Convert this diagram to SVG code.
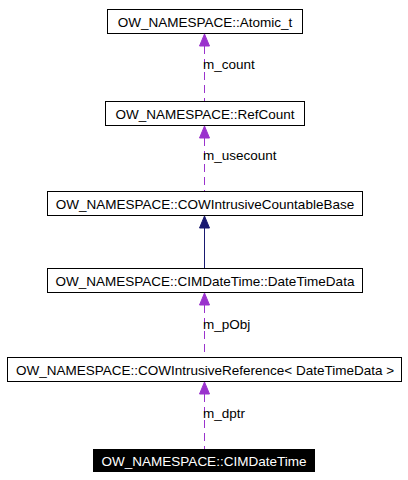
<svg xmlns="http://www.w3.org/2000/svg" width="408" height="480" viewBox="0 0 408 480">
<style>
.box{fill:#fff;stroke:#000;stroke-width:1}
.t{font-family:"Liberation Sans",Arial,sans-serif;font-size:13.5px;text-anchor:middle;fill:#000}
.w{fill:#fff}
.use{stroke:#9a32cd;stroke-width:1;stroke-dasharray:8,5;fill:none}
.ah{fill:#9a32cd;stroke:#9a32cd}
.inh{stroke:#191970;stroke-width:1;fill:none}
.ahn{fill:#191970;stroke:#191970}
.lbl{font-family:"Liberation Sans",Arial,sans-serif;font-size:13.5px;fill:#000}
</style>
<g id="connectors">
<path class="use" d="M204.5,46 L204.5,101"/>
<polygon class="ah" points="204.5,34 209.5,46 199.5,46"/>
<text class="lbl" x="203" y="69">m_count</text>
<path class="use" d="M204.5,138 L204.5,191"/>
<polygon class="ah" points="204.5,126 209.5,138 199.5,138"/>
<text class="lbl" x="203" y="160">m_usecount</text>
<path class="inh" d="M204.5,228 L204.5,268"/>
<polygon class="ahn" points="204.5,216 209.5,228 199.5,228"/>
<path class="use" d="M204.5,305 L204.5,357"/>
<polygon class="ah" points="204.5,293 209.5,305 199.5,305"/>
<text class="lbl" x="203" y="329">m_pObj</text>
<path class="use" d="M204.5,394 L204.5,449"/>
<polygon class="ah" points="204.5,382 209.5,394 199.5,394"/>
<text class="lbl" x="203" y="418">m_dptr</text>
</g>
<g id="node1"><rect class="box" x="107.5" y="9.5" width="195" height="24"/><text class="t" x="205" y="26.5">OW_NAMESPACE::Atomic_t</text></g>
<g id="node2"><rect class="box" x="105.5" y="101.5" width="199" height="24"/><text class="t" x="205" y="118.5">OW_NAMESPACE::RefCount</text></g>
<g id="node3"><rect class="box" x="47.5" y="191.5" width="315" height="24"/><text class="t" x="205" y="208.5">OW_NAMESPACE::COWIntrusiveCountableBase</text></g>
<g id="node4"><rect class="box" x="47.5" y="268.5" width="315" height="24"/><text class="t" x="205" y="285.5">OW_NAMESPACE::CIMDateTime::DateTimeData</text></g>
<g id="node5"><rect class="box" x="7.5" y="357.5" width="394" height="24"/><text class="t" x="205" y="374.5">OW_NAMESPACE::COWIntrusiveReference&lt; DateTimeData &gt;</text></g>
<g id="node6"><rect x="93" y="449" width="222" height="23" fill="#000"/><text class="t w" x="204" y="466">OW_NAMESPACE::CIMDateTime</text></g>
</svg>
